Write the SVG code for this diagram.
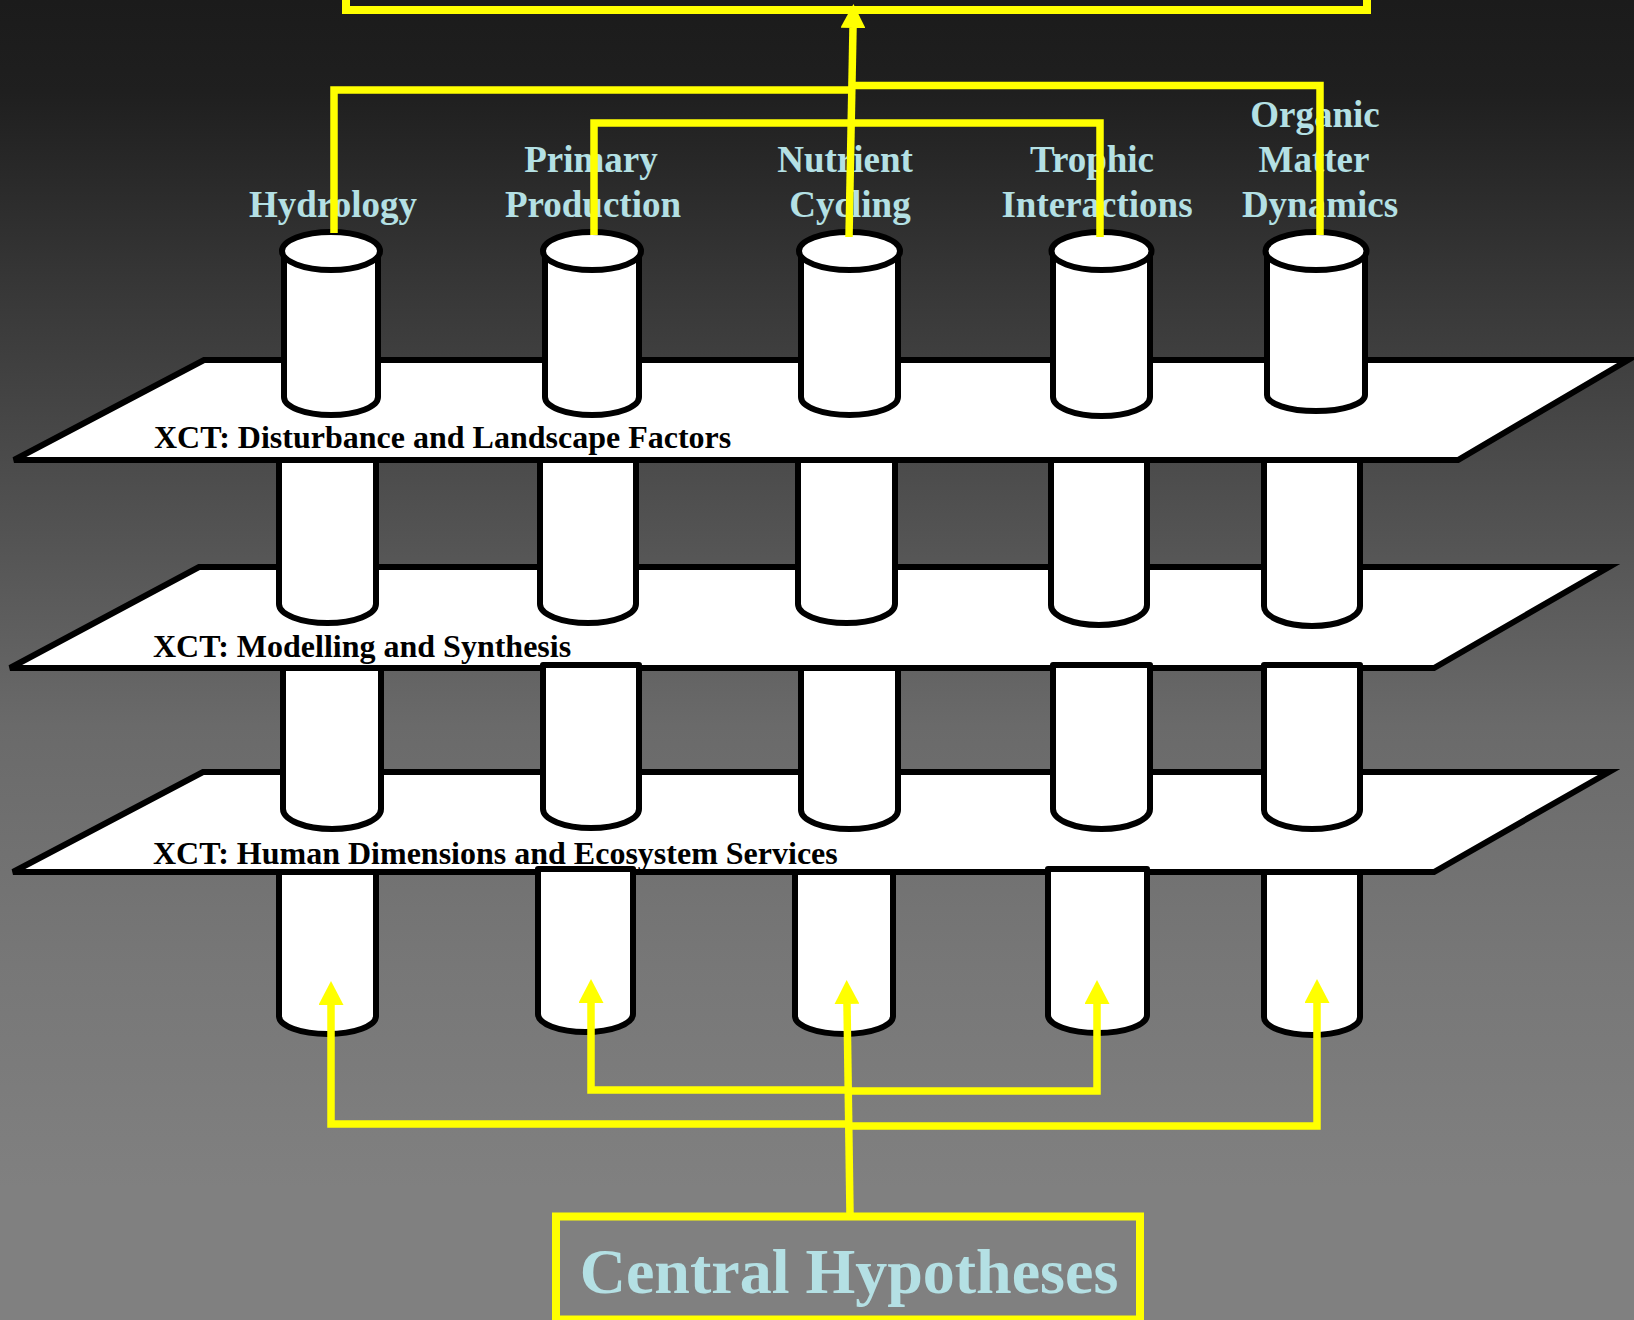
<svg xmlns="http://www.w3.org/2000/svg" width="1634" height="1320" viewBox="0 0 1634 1320">
<defs>
<linearGradient id="bg" x1="0" y1="0" x2="0" y2="1">
<stop offset="0" stop-color="#1b1b1b"/>
<stop offset="0.07" stop-color="#1f1f1f"/>
<stop offset="0.23" stop-color="#393939"/>
<stop offset="0.41" stop-color="#545454"/>
<stop offset="0.55" stop-color="#6a6a6a"/>
<stop offset="0.73" stop-color="#777777"/>
<stop offset="0.9" stop-color="#808080"/>
<stop offset="1" stop-color="#808080"/>
</linearGradient>
<marker id="ah" markerUnits="userSpaceOnUse" viewBox="0 0 24 25" markerWidth="24" markerHeight="25" refX="0" refY="12.5" orient="auto">
<path d="M0,0 L24,12.5 L0,25 Z" fill="#ffff00"/>
</marker>
<style>
.plane{fill:#fff;stroke:#000;stroke-width:6;stroke-linejoin:miter}
.cyl{fill:#fff;stroke:#000;stroke-width:6;stroke-linejoin:round}
.conn{fill:none;stroke:#ffff00;stroke-width:7.5;stroke-linejoin:miter}
.box{fill:none;stroke:#ffff00;stroke-width:8}
.lbl{font-family:"Liberation Serif","Times New Roman",serif;font-weight:bold;font-size:37px;fill:#b4e0e4;text-anchor:middle}
.xct{font-family:"Liberation Serif","Times New Roman",serif;font-weight:bold;font-size:32px;fill:#000}
.big{font-family:"Liberation Serif","Times New Roman",serif;font-weight:bold;font-size:64px;fill:#b4e0e4;text-anchor:middle}
</style>
</defs>
<rect x="0" y="0" width="1634" height="1320" fill="url(#bg)"/>

<g id="plane-human">
<polygon class="plane" points="203,772 1609,772 1434,872 13,872"/>
</g>
<g id="plane-modelling">
<polygon class="plane" points="199,567 1609,567 1434,668 10,668"/>
</g>
<g id="plane-disturbance">
<polygon class="plane" points="204,360 1628,360 1458,460 14,460"/>
</g>

<g id="col-hydrology">
<path class="cyl" d="M284,251 V397 A47,18 0 0 0 378,397 V251"/>
<ellipse class="cyl" cx="331" cy="251" rx="49" ry="19"/>
<path class="cyl" d="M279,460 V604 A48.5,19 0 0 0 376,604 V460 Z"/>
<path class="cyl" d="M283,668 V809 A49,20 0 0 0 381,809 V668 Z"/>
<path class="cyl" d="M279,872 V1016 A48.5,18 0 0 0 376,1016 V872 Z"/>
<text class="lbl" x="333" y="217">Hydrology</text>
</g>
<g id="col-primary">
<path class="cyl" d="M545,251 V397 A47,18 0 0 0 639,397 V251"/>
<ellipse class="cyl" cx="592" cy="251" rx="49" ry="19"/>
<path class="cyl" d="M540,460 V604 A48,19 0 0 0 636,604 V460 Z"/>
<path class="cyl" d="M543,665 V809 A48,19 0 0 0 639,809 V665 Z"/>
<path class="cyl" d="M538,869 V1014 A47.5,18 0 0 0 633,1014 V869 Z"/>
<text class="lbl" x="591" y="172">Primary</text>
<text class="lbl" x="593" y="217">Production</text>
</g>
<g id="col-nutrient">
<path class="cyl" d="M801,251 V397 A48.5,18 0 0 0 898,397 V251"/>
<ellipse class="cyl" cx="849.5" cy="251" rx="50.5" ry="19"/>
<path class="cyl" d="M798,460 V604 A48.5,19 0 0 0 895,604 V460 Z"/>
<path class="cyl" d="M801,668 V810 A48.5,19 0 0 0 898,810 V668 Z"/>
<path class="cyl" d="M795,872 V1016 A49,18 0 0 0 893,1016 V872 Z"/>
<text class="lbl" x="845" y="172">Nutrient</text>
<text class="lbl" x="850" y="217">Cycling</text>
</g>
<g id="col-trophic">
<path class="cyl" d="M1053,251 V397 A48.5,19 0 0 0 1150,397 V251"/>
<ellipse class="cyl" cx="1101.5" cy="251" rx="50" ry="19"/>
<path class="cyl" d="M1051,460 V605 A48,20 0 0 0 1147,605 V460 Z"/>
<path class="cyl" d="M1053,665 V809 A48.5,20 0 0 0 1150,809 V665 Z"/>
<path class="cyl" d="M1048,869 V1015 A49.5,18 0 0 0 1147,1015 V869 Z"/>
<text class="lbl" x="1092" y="172">Trophic</text>
<text class="lbl" x="1097" y="217">Interactions</text>
</g>
<g id="col-organic">
<path class="cyl" d="M1267,251 V395 A49,16 0 0 0 1365,395 V251"/>
<ellipse class="cyl" cx="1316" cy="251" rx="50.5" ry="19"/>
<path class="cyl" d="M1264,460 V606 A48,20 0 0 0 1360,606 V460 Z"/>
<path class="cyl" d="M1264,665 V810 A48,19 0 0 0 1360,810 V665 Z"/>
<path class="cyl" d="M1264,872 V1017 A48,18 0 0 0 1360,1017 V872 Z"/>
<text class="lbl" x="1315" y="127">Organic</text>
<text class="lbl" x="1314" y="172">Matter</text>
<text class="lbl" x="1320" y="217">Dynamics</text>
</g>

<g id="plane-labels">
<text class="xct" x="154" y="448">XCT: Disturbance and Landscape Factors</text>
<text class="xct" x="153" y="657">XCT: Modelling and Synthesis</text>
<text class="xct" x="153" y="864">XCT: Human Dimensions and Ecosystem Services</text>
</g>

<g id="connectors">
<path class="conn" d="M849,237 L853,28" marker-end="url(#ah)"/>
<path class="conn" d="M334,233 V90 H853"/>
<path class="conn" d="M853,85.5 H1320 V235"/>
<path class="conn" d="M594,235 V123 H1100 V237"/>
<path class="conn" d="M850,1214 L847,1004" marker-end="url(#ah)"/>
<path class="conn" d="M849,1124 H331 V1005" marker-end="url(#ah)"/>
<path class="conn" d="M849,1126 H1317 V1003" marker-end="url(#ah)"/>
<path class="conn" d="M849,1090 H591 V1003" marker-end="url(#ah)"/>
<path class="conn" d="M849,1091 H1097 V1004" marker-end="url(#ah)"/>
</g>

<g id="box-top">
<rect class="box" x="346" y="-40" width="1021" height="50"/>
</g>
<g id="box-central">
<rect class="box" x="556" y="1216.5" width="584" height="103"/>
<text class="big" x="849" y="1293">Central Hypotheses</text>
</g>
</svg>
